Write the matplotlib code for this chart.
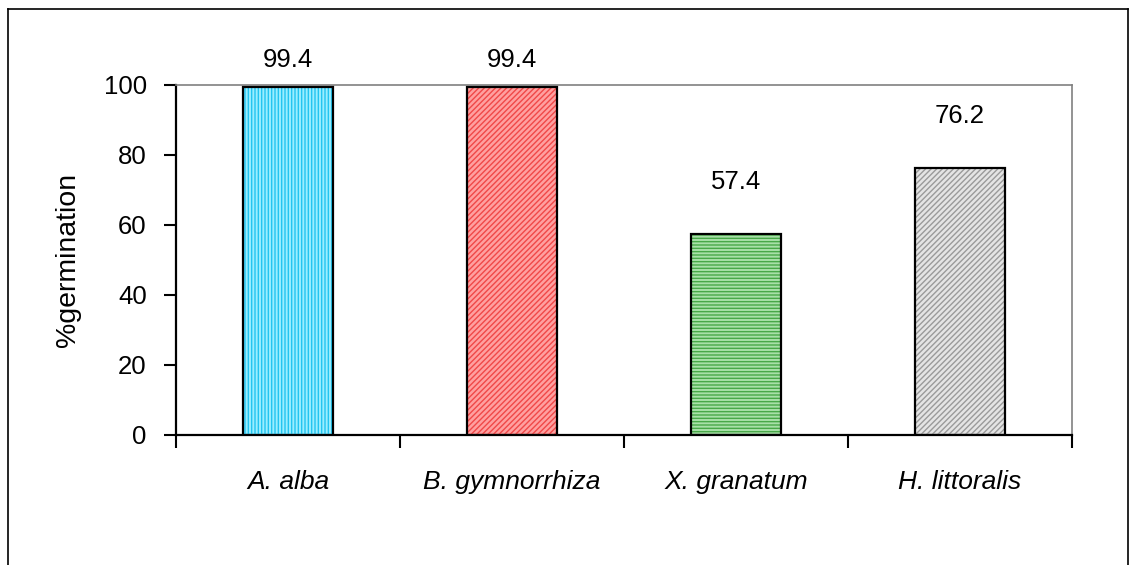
import matplotlib
matplotlib.use("Agg")
from matplotlib import pyplot as plt
import matplotlib.lines as mlines
import numpy as np

species = ["A. alba", "B. gymnorrhiza", "X. granatum", "H. littoralis"]
germination = [99.4, 99.4, 57.4, 76.2]
face_colors = ["#99EEFF", "#FFA0A0", "#A8E0A8", "#E4E4E4"]
hatch_colors = ["#22C4F0", "#F04848", "#48A848", "#9A9A9A"]
hatches = ["|||||", "//////", "-----", "//////"]

plt.rcParams["font.family"] = ["Liberation Sans", "DejaVu Sans"]
plt.rcParams["hatch.linewidth"] = 1.0

fig = plt.figure(figsize=(11.36, 5.65), dpi=100)
ax = fig.add_axes([0.1549, 0.2301, 0.7888, 0.6195])

x = np.arange(len(species)) + 0.5
width = 0.4
ax.bar(x, germination, width, color=face_colors, edgecolor="none", zorder=2)
for xi, v, hc, h in zip(x, germination, hatch_colors, hatches):
    ax.bar(xi, v, width, color="none", edgecolor=hc, hatch=h, linewidth=0, zorder=3)
ax.bar(x, germination, width, color="none", edgecolor="black", linewidth=1.6, zorder=4)

# value labels (Excel pushed the tall ones down to fit)
for xi, v in zip(x, germination):
    ax.text(xi, min(v + 15, 107), f"{v:.1f}", ha="center", va="center", fontsize=18.5)

for xi, name in zip(x, species):
    ax.text(xi, -13.5, name, ha="center", va="center", fontsize=19, style="italic")

ax.set_xlim(0, len(species))
ax.set_ylim(0, 100)
ax.set_yticks(range(0, 101, 20))
ax.set_xticks(range(0, len(species) + 1))
ax.set_xticklabels([])
ax.tick_params(axis="y", direction="out", length=9, width=1.5, labelsize=18.5, pad=12)
ax.tick_params(axis="x", direction="out", length=9, width=1.5)
ax.set_ylabel("%germination", fontsize=20.5, labelpad=16)

for s in ["left", "bottom"]:
    ax.spines[s].set_linewidth(1.6)
    ax.spines[s].set_color("black")
for s in ["top", "right"]:
    ax.spines[s].set_linewidth(1.2)
    ax.spines[s].set_color("#808080")

# outer chart frame
x0, x1 = 8 / 1136, 1128 / 1136
y0, y1 = -0.05, 1 - 9 / 565
for xs, ys in [([x0, x1], [y1, y1]), ([x0, x0], [y0, y1]), ([x1, x1], [y0, y1])]:
    fig.add_artist(mlines.Line2D(xs, ys, color="black", linewidth=1.2, transform=fig.transFigure))

fig.savefig("out.png", dpi=100)
